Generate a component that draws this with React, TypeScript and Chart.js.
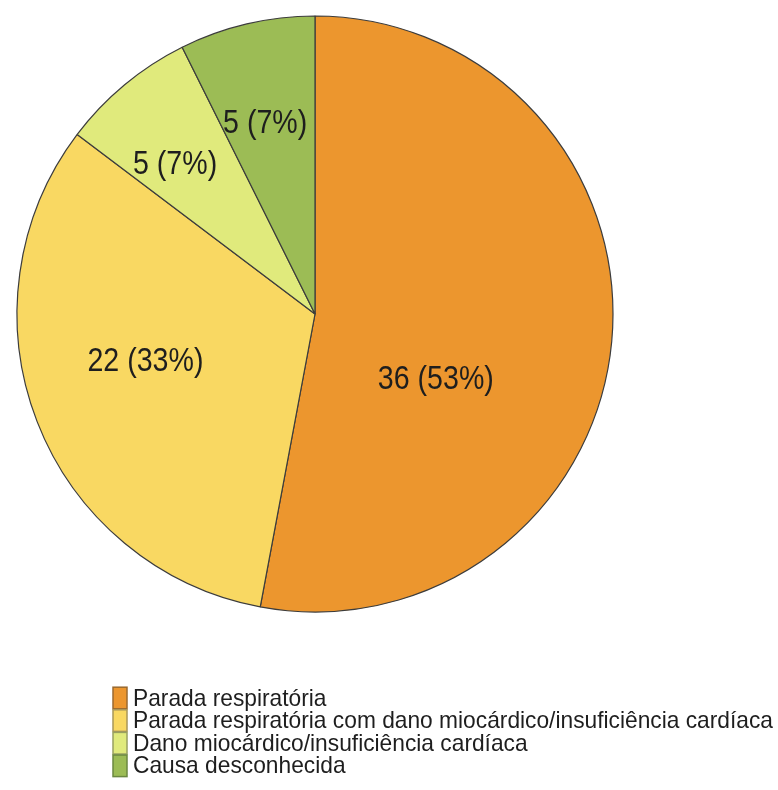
import React, { useEffect, useRef } from "react";
import { Chart, registerables } from "chart.js";

Chart.register(...registerables);

const categories = [
  "Parada respiratória",
  "Parada respiratória com dano miocárdico/insuficiência cardíaca",
  "Dano miocárdico/insuficiência cardíaca",
  "Causa desconhecida",
];
const counts = [36, 22, 5, 5];
const percents = [53, 33, 7, 7];
const colors = ["#EC962E", "#F9D862", "#E0EA7C", "#9CBC55"];
const legendBorders = ["#9a6a30", "#a8965a", "#98a060", "#6b8840"];

// label placement inside each slice: fraction along the slice angle, fraction of radius
const labelAngleFrac = [0.62, 0.55, 0.38, 0.45];
const labelRadiusFrac = [0.46, 0.59, 0.69, 0.665];

const FONT = '"Liberation Sans", Arial, "Helvetica", sans-serif';

const labelPlugin = {
  id: "sliceLabels",
  afterDatasetsDraw(chart: any) {
    const ctx = chart.ctx;
    const meta = chart.getDatasetMeta(0);
    ctx.save();
    ctx.fillStyle = "#1e1e1e";
    ctx.textAlign = "center";
    ctx.textBaseline = "middle";
    ctx.font = `34px ${FONT}`;
    const ref = `${counts[0]} (${percents[0]}%)`;
    const sx = 116 / ctx.measureText(ref).width;
    meta.data.forEach((arc: any, i: number) => {
      const p = arc.getProps(["x", "y", "startAngle", "endAngle", "outerRadius"], true);
      const a = p.startAngle + labelAngleFrac[i] * (p.endAngle - p.startAngle);
      const r = p.outerRadius * labelRadiusFrac[i];
      const tx = p.x + Math.cos(a) * r;
      const ty = p.y + Math.sin(a) * r;
      const txt = `${counts[i]} (${percents[i]}%)`;
      ctx.save();
      ctx.translate(tx, ty + 1);
      ctx.scale(sx, 1);
      ctx.fillText(txt, 0, 0);
      ctx.restore();
    });
    ctx.restore();
  },
};

const legendPlugin = {
  id: "customLegend",
  afterDraw(chart: any) {
    const ctx = chart.ctx;
    const boxX = 113;
    const boxW = 14;
    const rowH = 22.6;
    const firstCenter = 698;
    const textX = 133;
    ctx.save();
    ctx.font = `24px ${FONT}`;
    ctx.textBaseline = "middle";
    ctx.textAlign = "left";
    const sx = 640 / ctx.measureText(categories[1]).width;
    categories.forEach((lab, i) => {
      const cy = firstCenter + i * rowH;
      ctx.fillStyle = colors[i];
      ctx.fillRect(boxX, cy - rowH / 2 + 0.5, boxW, rowH - 1);
      ctx.strokeStyle = legendBorders[i];
      ctx.lineWidth = 1.5;
      ctx.strokeRect(boxX, cy - rowH / 2 + 0.5, boxW, rowH - 1);
      ctx.fillStyle = "#1e1e1e";
      ctx.save();
      ctx.translate(textX, cy + 1);
      ctx.scale(sx, 1);
      ctx.fillText(lab, 0, 0);
      ctx.restore();
    });
    ctx.restore();
  },
};

export default function App() {
  const ref = useRef<HTMLCanvasElement>(null);
  useEffect(() => {
    if (!ref.current) return;
    const chart = new Chart(ref.current, {
      type: "pie",
      data: {
        labels: categories,
        datasets: [
          {
            data: counts,
            backgroundColor: colors,
            borderColor: "#3c3c3c",
            borderWidth: 1.2,
          },
        ],
      },
      options: {
        responsive: false,
        animation: false,
        radius: 298,
        layout: { padding: { left: 17, top: 16, right: 165, bottom: 178 } },
        plugins: {
          legend: { display: false },
          tooltip: { enabled: false },
        },
      } as any,
      plugins: [labelPlugin, legendPlugin],
    });
    return () => chart.destroy();
  }, []);
  return (
    <div style={{ position: "absolute", left: 0, top: 0, width: 778, height: 790, background: "#fff" }}>
      <canvas ref={ref} width={778} height={790} style={{ display: "block" }} />
    </div>
  );
}
